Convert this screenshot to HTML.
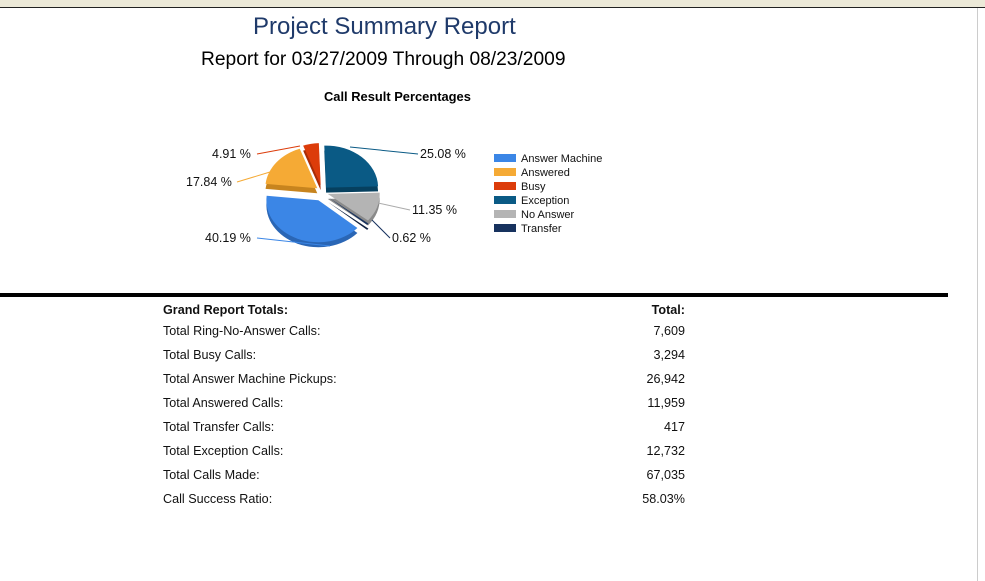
<!DOCTYPE html>
<html><head><meta charset="utf-8"><style>
body{margin:0;width:985px;height:581px;background:#fff;position:relative;overflow:hidden;font-family:"Liberation Sans",Arial,sans-serif;}
.t{position:absolute;white-space:nowrap;}
.r{position:absolute;font-size:12.6px;color:#111;left:163px;width:522px;}
.r span{position:absolute;right:0;top:0;}
</style></head><body>
<div style="position:absolute;left:0;top:0;width:985px;height:7px;background:#ece9d8"></div>
<div style="position:absolute;left:0;top:7px;width:985px;height:1px;background:#222"></div>
<div style="position:absolute;left:977px;top:8px;width:1px;height:573px;background:#ccc"></div>
<div class="t" style="left:253px;top:13px;font-size:24px;color:#1f3a6a">Project Summary Report</div>
<div class="t" style="left:201px;top:49px;font-size:19.2px;color:#000">Report for 03/27/2009 Through 08/23/2009</div>
<div class="t" style="left:324px;top:89px;font-size:12.9px;font-weight:bold">Call Result Percentages</div>
<svg id="pie" width="985" height="290" style="position:absolute;left:0;top:0" font-family="Liberation Sans, Arial, sans-serif" font-size="12.5"></svg>
<div style="position:absolute;left:0;top:293px;width:948px;height:4px;background:#000"></div>
<div class="r" style="top:303px;font-weight:bold">Grand Report Totals:<span>Total:</span></div>
<div class="r" style="top:324px">Total Ring-No-Answer Calls:<span>7,609</span></div>
<div class="r" style="top:348px">Total Busy Calls:<span>3,294</span></div>
<div class="r" style="top:372px">Total Answer Machine Pickups:<span>26,942</span></div>
<div class="r" style="top:396px">Total Answered Calls:<span>11,959</span></div>
<div class="r" style="top:420px">Total Transfer Calls:<span>417</span></div>
<div class="r" style="top:444px">Total Exception Calls:<span>12,732</span></div>
<div class="r" style="top:468px">Total Calls Made:<span>67,035</span></div>
<div class="r" style="top:492px">Call Success Ratio:<span>58.03%</span></div>
<script>
var s=document.getElementById('pie'),h='';
var cx=322,cy=192,rx=52,ry=42,d=5;
var sl=[[25.08,'#0a5a85','#06405f'],[11.35,'#b4b4b4','#8a8a8a'],[0.62,'#17325e','#0e2040'],[40.19,'#3b86e6','#2a66b5'],[17.84,'#f5aa35','#c7841e'],[4.91,'#dc3c0a','#a82c06']];
var a=-2,ex=[6,6,8,9,6,7];
function P(t,ox,oy,dy){var r=(t-90)*Math.PI/180;return [cx+ox+rx*Math.cos(r),cy+oy+dy+ry*Math.sin(r)];}
sl.forEach(function(v,i){var a1=a,a2=a+v[0]*3.6;a=a2;var m=((a1+a2)/2-90)*Math.PI/180;var ox=ex[i]*Math.cos(m),oy=ex[i]*Math.sin(m);
var p1=P(a1,ox,oy,0),p2=P(a2,ox,oy,0),q1=P(a1,ox,oy,d),q2=P(a2,ox,oy,d),l=(a2-a1)>180?1:0;
h+='<path d="M'+(cx+ox)+','+(cy+oy+d)+'L'+q1+'A'+rx+','+ry+' 0 '+l+' 1 '+q2+'Z" fill="'+v[2]+'"/>';
h+='<path d="M'+(cx+ox)+','+(cy+oy)+'L'+p1+'A'+rx+','+ry+' 0 '+l+' 1 '+p2+'Z" fill="'+v[1]+'"/>';});
var lb=[['25.08 %',420,158,350,147,'#0a5a85',418],['11.35 %',412,214,378,203,'#aaa',410],['0.62 %',392,242,372,220,'#17325e',390],['40.19 %',205,242,330,246,'#3b86e6',257],['17.84 %',186,186,270,172,'#f5aa35',237],['4.91 %',212,158,300,146,'#dc3c0a',257]];
lb.forEach(function(b){
h+='<polyline points="'+b[3]+','+b[4]+' '+b[6]+','+(b[2]-4)+'" fill="none" stroke="'+b[5]+'" stroke-width="1"/>';
h+='<text x="'+b[1]+'" y="'+b[2]+'" fill="#111">'+b[0]+'</text>';});
var lg=[['Answer Machine','#3b86e6'],['Answered','#f5aa35'],['Busy','#dc3c0a'],['Exception','#0a5a85'],['No Answer','#b4b4b4'],['Transfer','#17325e']];
lg.forEach(function(g,i){var y=154+i*14;h+='<rect x="494" y="'+y+'" width="22" height="8" fill="'+g[1]+'"/><text x="521" y="'+(y+8)+'" font-size="11" fill="#111">'+g[0]+'</text>';});
s.innerHTML=h;
</script>
</body></html>
